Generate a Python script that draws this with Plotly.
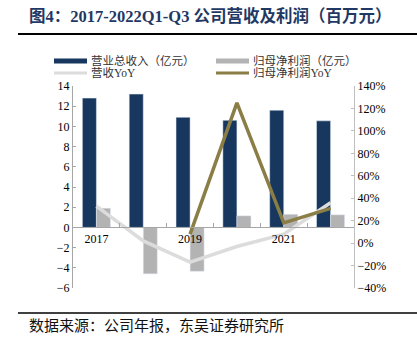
import plotly.graph_objects as go

categories = ["2017", "2018", "2019", "2020", "2021", "2022Q1-Q3"]
tick_labels = ["2017", "", "2019", "", "2021", ""]
revenue = [12.8, 13.2, 10.9, 10.6, 11.6, 10.55]           # 营业总收入（亿元）
net_profit = [1.9, -4.6, -4.35, 1.15, 1.3, 1.25]          # 归母净利润（亿元）
revenue_yoy = [33, 2, -17, -3, 8, 36]                     # 营收YoY (%)
profit_yoy = [None, None, 8, 125, 18, 31]                 # 归母净利润YoY (%)
series_names = ["营业总收入（亿元）", "归母净利润（亿元）", "营收YoY", "归母净利润YoY"]

W, H = 417, 351
ML, MR, MT, MB = 73, 63, 86, 63
PW, PH = W - ML - MR, H - MT - MB

def px(x):
    return (x - ML) / PW

def py(y):
    return (H - MB - y) / PH

NAVY = "#17375E"
GRAY = "#B3B3B3"
LIGHT = "#DCDCDC"
OLIVE = "#8A7D45"
SERIF = "Liberation Serif, Noto Sans CJK SC"

fig = go.Figure()
fig.add_trace(go.Bar(x=categories, y=revenue, name=series_names[0],
                     marker_color=NAVY, yaxis="y"))
fig.add_trace(go.Bar(x=categories, y=net_profit, name=series_names[1],
                     marker_color=GRAY, yaxis="y"))
fig.add_trace(go.Scatter(x=categories, y=revenue_yoy, name=series_names[2], mode="lines",
                         line=dict(color=LIGHT, width=3.5), yaxis="y2"))
fig.add_trace(go.Scatter(x=categories, y=profit_yoy, name=series_names[3], mode="lines",
                         line=dict(color=OLIVE, width=3.5), yaxis="y2"))

ymin, ymax = -6, 14
fig.update_layout(
    width=W, height=H,
    margin=dict(l=ML, r=MR, t=MT, b=MB),
    paper_bgcolor="white", plot_bgcolor="white",
    barmode="group", bargap=0.4, bargroupgap=0,
    font=dict(family=SERIF, size=12, color="#000000"),
    showlegend=False,
    xaxis=dict(type="category", tickvals=categories, ticktext=tick_labels,
               anchor="free", position=(0 - ymin) / (ymax - ymin),
               showline=True, linecolor="#A6A6A6", linewidth=1,
               ticks="inside", ticklen=4, tickcolor="#A6A6A6", tickson="boundaries",
               showgrid=False, zeroline=False,
               tickfont=dict(size=12, family=SERIF, color="#000000")),
    yaxis=dict(range=[ymin, ymax], dtick=2, showgrid=False, zeroline=False,
               showline=True, linecolor="#A6A6A6", linewidth=1,
               ticks="inside", ticklen=3, tickcolor="#A6A6A6",
               tickfont=dict(size=12, family=SERIF, color="#000000")),
    yaxis2=dict(range=[-40, 140], dtick=20, overlaying="y", side="right",
                ticksuffix="%", showgrid=False, zeroline=False,
                showline=True, linecolor="#BFBFBF", linewidth=1,
                ticks="inside", ticklen=3, tickcolor="#BFBFBF",
                tickfont=dict(size=12, family=SERIF, color="#000000")),
)

# custom legend (two columns, wide swatches)
legend_items = [
    (series_names[0], "rect", NAVY, 54, 61),
    (series_names[1], "rect", GRAY, 216, 61),
    (series_names[2], "line", LIGHT, 54, 73),
    (series_names[3], "line", OLIVE, 216, 73),
]
for name, kind, color, lx, ly in legend_items:
    if kind == "rect":
        fig.add_shape(type="rect", xref="paper", yref="paper",
                      x0=px(lx), x1=px(lx + 33), y0=py(ly - 2.5), y1=py(ly + 2.5),
                      fillcolor=color, line=dict(width=0))
    else:
        fig.add_shape(type="line", xref="paper", yref="paper",
                      x0=px(lx), x1=px(lx + 33), y0=py(ly), y1=py(ly),
                      line=dict(color=color, width=3))
    fig.add_annotation(text=name, xref="paper", yref="paper", x=px(lx + 35), y=py(ly),
                       xanchor="left", yanchor="middle", showarrow=False,
                       font=dict(size=11.5, color="#333333", family=SERIF))

fig.add_annotation(text="<b>图4：2017-2022Q1-Q3 公司营收及利润（百万元）</b>",
                   xref="paper", yref="paper", x=px(27), y=py(16),
                   xanchor="left", yanchor="middle", showarrow=False,
                   font=dict(size=16.5, color="#1F3864", family=SERIF))
fig.add_annotation(text="数据来源：公司年报，东吴证券研究所",
                   xref="paper", yref="paper", x=px(27), y=py(326),
                   xanchor="left", yanchor="middle", showarrow=False,
                   font=dict(size=15, color="#111111", family=SERIF))
fig.add_shape(type="line", xref="paper", yref="paper", x0=px(18), x1=px(417),
              y0=py(34), y1=py(34), line=dict(color="#000000", width=2))
fig.add_shape(type="line", xref="paper", yref="paper", x0=px(18), x1=px(417),
              y0=py(313), y1=py(313), line=dict(color="#000000", width=1.5))

fig.write_html("out.html")
